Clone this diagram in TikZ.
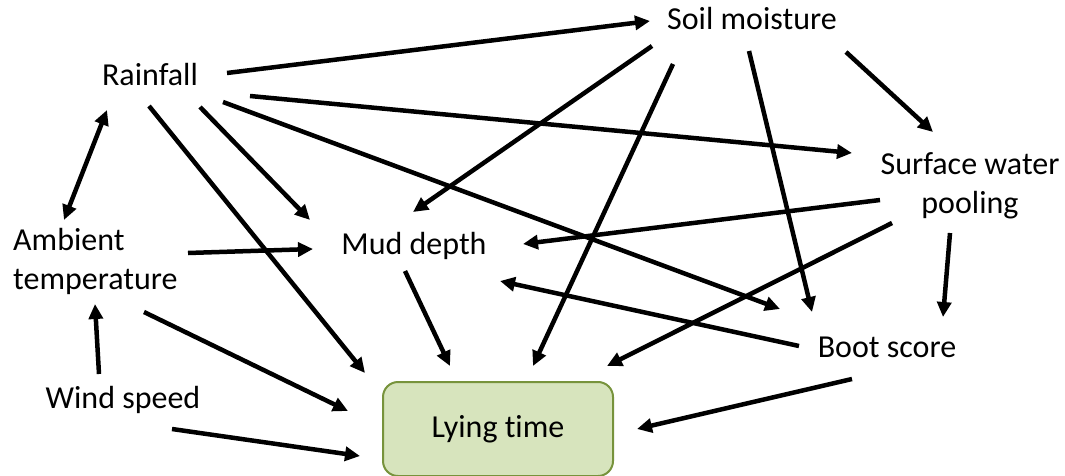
\documentclass[tikz,border=0pt]{standalone}
\usepackage{fontspec}
\setmainfont{Carlito}[Ligatures=NoCommon]
\usetikzlibrary{arrows.meta}
\definecolor{boxfill}{HTML}{D7E4BD}
\definecolor{boxdraw}{HTML}{77933C}
\begin{document}
\begin{tikzpicture}[x=1pt,y=-1pt,
  lbl/.style={inner sep=0pt,font=\fontsize{32pt}{39pt}\selectfont},
  outbox/.style={draw=boxdraw,fill=boxfill,line width=2pt,rounded corners=15pt,
    minimum width=230pt,minimum height=94pt,inner sep=0pt,font=\fontsize{32pt}{39pt}\selectfont},
  arr/.style={line width=4.5pt,-{Triangle[length=15pt,width=14pt]}},
  darr/.style={line width=4.5pt,{Triangle[length=15pt,width=14pt]}-{Triangle[length=15pt,width=14pt]}}]
\useasboundingbox (0,0) rectangle (1065,476);
\node[lbl,anchor=base] (rain) at (150,86) {Rainfall};
\node[lbl,anchor=base] (soil) at (752,30) {Soil moisture};
\node[lbl,anchor=base,align=center] (surf) at (970,213) {Surface water\\pooling};
\node[lbl,anchor=base west,align=left] (amb) at (13,289) {Ambient\\temperature};
\node[lbl,anchor=base] (mud) at (414,254) {Mud depth};
\node[lbl,anchor=base] (wind) at (123,408) {Wind speed};
\node[lbl,anchor=base] (boot) at (887,357) {Boot score};
\node[outbox] (lying) at (498,429) {Lying time};
% connectors
\draw[arr] ([shift={(77,-13)}]rain.base) -- ([shift={(-102,-9)}]soil.base);
\draw[arr] ([shift={(100,10)}]rain.base) -- ([shift={(-118,-60)}]surf.base);
\draw[arr] ([shift={(73,16)}]rain.base) -- ([shift={(-107,-48)}]boot.base);
\draw[arr] ([shift={(50,21)}]rain.base) -- ([shift={(-104,-34)}]mud.base);
\draw[arr] ([shift={(-1,20)}]rain.base) -- ([shift={(-133,-56)}]lying.center);
\draw[darr] ([shift={(51,-69)}]amb.base west) -- ([shift={(-43,24)}]rain.base);
\draw[arr] ([shift={(175,-36)}]amb.base west) -- ([shift={(-101,-5)}]mud.base);
\draw[arr] ([shift={(131,23)}]amb.base west) -- ([shift={(-150,-18)}]lying.center);
\draw[arr] ([shift={(-24,-34)}]wind.base) -- ([shift={(82,15)}]amb.base west);
\draw[arr] ([shift={(49,21)}]wind.base) -- ([shift={(-138,27)}]lying.center);
\draw[arr] ([shift={(-100,16)}]soil.base) -- ([shift={(-1,-42)}]mud.base);
\draw[arr] ([shift={(-79,34)}]soil.base) -- ([shift={(35,-63)}]lying.center);
\draw[arr] ([shift={(-3,21)}]soil.base) -- ([shift={(-75,-45)}]boot.base);
\draw[arr] ([shift={(94,22)}]soil.base) -- ([shift={(-37,-81)}]surf.base);
\draw[arr] ([shift={(-90,-13)}]surf.base) -- ([shift={(109,-10)}]mud.base);
\draw[arr] ([shift={(-78,10)}]surf.base) -- ([shift={(109,-63)}]lying.center);
\draw[arr] ([shift={(-20,20)}]surf.base) -- ([shift={(56,-40)}]boot.base);
\draw[arr] ([shift={(-88,-11)}]boot.base) -- ([shift={(86,27)}]mud.base);
\draw[arr] ([shift={(-35,22)}]boot.base) -- ([shift={(139,0)}]lying.center);
\draw[arr] ([shift={(-9,17)}]mud.base) -- ([shift={(-48,-63)}]lying.center);
\end{tikzpicture}
\end{document}
